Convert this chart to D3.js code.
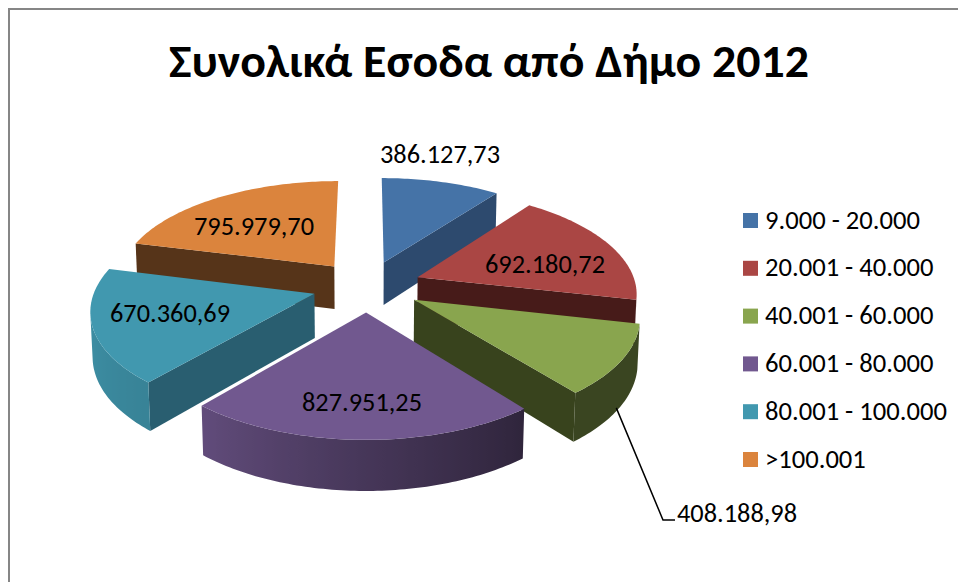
<!DOCTYPE html>
<html><head><meta charset="utf-8">
<script src="https://cdn.jsdelivr.net/npm/d3@7/dist/d3.min.js"></script>
<style>html,body{margin:0;padding:0;background:#fff}svg{display:block}text{font-family:Carlito,Lato,"Open Sans",sans-serif;fill:#000}</style>
</head><body><div id="chart"></div>
<script>
const title = "Συνολικά Εσοδα από Δήμο 2012";
const categories = ["9.000 - 20.000","20.001 - 40.000","40.001 - 60.000","60.001 - 80.000","80.001 - 100.000",">100.001"];
const values = [386127.73,692180.72,408188.98,827951.25,670360.69,795979.70];
const topColors = ["#4573a7","#aa4644","#89a54e","#71588f","#4198af","#db843d"];
const wallColors = ["#2d4a6e","#471b19","#38431d","#3f3050","#295e70","#563419"];
const labelX = [440,545,737,362,170,254];
const labelY = [163,273,522,411,322,235];

const W=958,H=582;
const svg=d3.select("#chart").append("svg").attr("width",W).attr("height",H);
const defs=svg.append("defs");
svg.append("rect").attr("width",W).attr("height",H).attr("fill","#fff");
svg.append("path").attr("d",`M9,${H}V9H${W}`).attr("fill","none").attr("stroke","#868686").attr("stroke-width",2);

svg.append("text").attr("x",489).attr("y",77).attr("text-anchor","middle")
  .attr("font-size",47).attr("font-weight",700).attr("textLength",640).attr("lengthAdjust","spacingAndGlyphs").text(title);

// perspective projection of the exploded pie plane
const cx=367,cy=286,A=218.5,B=102,K=0.137,Hh=44,G=0.008,explode=0.25;
const proj=(u,v,low)=>{const d=1-K*v+(low?G:0);return [cx+A*u/d,cy+(B*v+(low?Hh:0))/d];};
const line=d3.line().curve(d3.curveLinearClosed);
const arcs=d3.pie().sort(null).value(d=>d).startAngle(0).endAngle(2*Math.PI)(values);
const shade=d3.scaleLinear().domain([100,142,180,220,255,290]).range([0.42,0.42,0.62,0.86,0.93,0.93]).clamp(true);
const shadeColor=(i,t)=>{const c=d3.color(topColors[i]),s=shade(t*180/Math.PI);return d3.rgb(c.r*s,c.g*s,c.b*s).formatHex();};

const geom=arcs.map((a,i)=>{
  const mid=(a.startAngle+a.endAngle)/2;
  const ou=explode*Math.sin(mid),ov=-explode*Math.cos(mid);
  const n=Math.ceil((a.endAngle-a.startAngle)*180/Math.PI);
  const rim=d3.range(n+1).map(k=>{const t=a.startAngle+(a.endAngle-a.startAngle)*k/n;
    return {t,u:ou+Math.sin(t),v:ov-Math.cos(t)};});
  return {i,mid,ou,ov,rim};
});
const minWallArea=300;
geom.slice().sort((a,b)=>a.ov-b.ov).forEach(g=>{
  const gr=svg.append("g");
  const apexT=proj(g.ou,g.ov,false),apexB=proj(g.ou,g.ov,true);
  const first=g.rim[0],last=g.rim[g.rim.length-1];
  const faces=[
    [apexT,proj(first.u,first.v,false),proj(first.u,first.v,true),apexB],
    [proj(last.u,last.v,false),apexT,apexB,proj(last.u,last.v,true)]
  ];
  faces.forEach(f=>{ if(d3.polygonArea(f)>minWallArea) gr.append("path").attr("d",line(f)).attr("fill",wallColors[g.i]); });
  // visible part of the curved outer wall as one gradient-filled path
  const vis=g.rim.filter((p,k)=>{
    const q=g.rim[Math.min(k+1,g.rim.length-1)],r=g.rim[Math.max(k-1,0)];
    return d3.polygonArea([proj(r.u,r.v,false),proj(q.u,q.v,false),proj(q.u,q.v,true),proj(r.u,r.v,true)])>0;
  });
  if(vis.length>1){
    const pts=vis.map(p=>proj(p.u,p.v,false));
    const low=vis.map(p=>proj(p.u,p.v,true));
    const [x0,x1]=d3.extent(pts.concat(low),d=>d[0]);
    const id="wall"+g.i;
    const grad=defs.append("linearGradient").attr("id",id).attr("gradientUnits","userSpaceOnUse")
      .attr("x1",x0).attr("x2",x1).attr("y1",0).attr("y2",0);
    d3.sort(vis,p=>proj(p.u,p.v,false)[0]).forEach(p=>{
      grad.append("stop").attr("offset",(proj(p.u,p.v,false)[0]-x0)/(x1-x0)).attr("stop-color",shadeColor(g.i,p.t));
    });
    gr.append("path").attr("d",line(pts.concat(low.reverse()))).attr("fill",`url(#${id})`);
  }
  const top=[apexT,...g.rim.map(p=>proj(p.u,p.v,false))];
  gr.append("path").attr("d",line(top)).attr("fill",topColors[g.i]);
});

// leader for the third slice, anchored at its rim
const g3=geom[2];
const a3=proj(g3.ou+Math.sin(g3.mid),g3.ov-Math.cos(g3.mid),true);
svg.append("path").attr("d",d3.line()([[a3[0]-3,a3[1]],[663,520],[675,520]])).attr("fill","none").attr("stroke","#000").attr("stroke-width",1.5);

const fmt=d3.formatLocale({decimal:",",thousands:".",grouping:[3],currency:["","€"]}).format(",.2f");
values.forEach((v,i)=>{
  svg.append("text").attr("x",labelX[i]).attr("y",labelY[i]).attr("text-anchor","middle").attr("font-size",27)
    .attr("textLength",120).attr("lengthAdjust","spacingAndGlyphs").text(fmt(v));
});
const legY=d3.scalePoint().domain(categories).range([220.5,459.5]);
categories.forEach((c,i)=>{
  const y=legY(c);
  svg.append("rect").attr("x",743).attr("y",y-7.5).attr("width",15).attr("height",15).attr("fill",topColors[i]);
  svg.append("text").attr("x",765).attr("y",y+8).attr("font-size",26.6).text(c);
});
</script></body></html>
